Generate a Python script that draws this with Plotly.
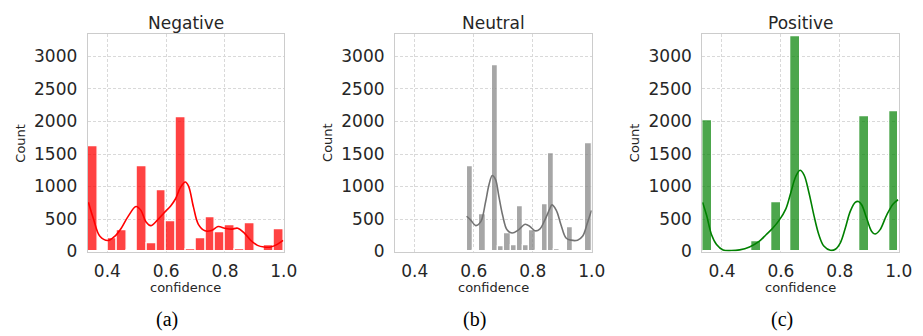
import plotly.graph_objects as go

# ---------------- data ----------------
# Histogram counts (20 bins per panel)
neg_bin_start = 1/3
neg_bin_width = (1.0 - 1/3) / 20
neg_counts = [1620, 0, 205, 330, 20, 1310, 130, 940, 460, 2060,
              30, 205, 535, 300, 410, 30, 430, 0, 105, 340]

neu_bin_start = 0.577
neu_bin_width = (1.0 - 0.577) / 20
neu_counts = [1310, 25, 570, 10, 2870, 85, 280, 90, 690, 90,
              330, 15, 730, 1510, 40, 25, 375, 8, 0, 1660]

pos_bin_start = 1/3
pos_bin_width = (1.0 - 1/3) / 20
pos_counts = [2020, 0, 0, 0, 0, 165, 0, 755, 0, 3320,
              0, 0, 0, 0, 0, 0, 2080, 0, 0, 2165]

# KDE curves (count scale)
neg_kde_x = [0.3355, 0.3523, 0.3746, 0.4026, 0.4249, 0.4472, 0.4696, 0.4975, 0.5142,
             0.5310, 0.5477, 0.5701, 0.5924, 0.6147, 0.6315, 0.6482, 0.6650, 0.6761,
             0.6929, 0.7096, 0.7320, 0.7543, 0.7766, 0.7990, 0.8213, 0.8436, 0.8660,
             0.8883, 0.9107, 0.9330, 0.9553, 0.9777, 0.9978]
neg_kde_y = [758, 508, 234, 170, 234, 359, 533, 693, 633,
             459, 399, 483, 593, 698, 808, 982, 1070, 1007,
             683, 419, 319, 324, 384, 359, 344, 359, 284,
             170, 95, 70, 70, 110, 170]

neu_kde_x = [0.576, 0.590, 0.607, 0.624, 0.640, 0.652, 0.663, 0.674, 0.685, 0.698,
             0.713, 0.730, 0.752, 0.774, 0.791, 0.808, 0.824, 0.841, 0.858, 0.865,
             0.880, 0.896, 0.913, 0.930, 0.952, 0.969, 0.985, 0.999]
neu_kde_y = [543, 484, 399, 459, 758, 1032, 1170, 1107, 857, 558,
             334, 284, 334, 419, 384, 319, 344, 484, 658, 718,
             633, 409, 209, 175, 175, 234, 434, 633]

pos_kde_x = [0.3345, 0.3479, 0.3647, 0.3815, 0.4039, 0.4319, 0.4599, 0.4935, 0.5272,
             0.5496, 0.5720, 0.5944, 0.6168, 0.6336, 0.6504, 0.6650, 0.6784, 0.6952,
             0.7120, 0.7288, 0.7456, 0.7680, 0.7848, 0.8016, 0.8184, 0.8353, 0.8521,
             0.8633, 0.8745, 0.8913, 0.9081, 0.9193, 0.9361, 0.9585, 0.9809, 0.9977]
pos_kde_y = [756, 557, 259, 109, 25, 15, 25, 70, 159,
             259, 358, 483, 657, 905, 1154, 1250, 1179, 905,
             557, 259, 85, 20, 35, 134, 358, 617, 756,
             770, 716, 507, 308, 269, 333, 557, 731, 796]

titles = ["Negative", "Neutral", "Positive"]
captions = ["(a)", "(b)", "(c)"]
x_label = "confidence"
y_label = "Count"
y_ticks = [0, 500, 1000, 1500, 2000, 2500, 3000]
x_ticks = [0.4, 0.6, 0.8, 1.0]
x_tick_text = ["0.4", "0.6", "0.8", "1.0"]

# ---------------- styling / layout ----------------
W, H = 923, 336
panels_px = [(81, 280), (393, 592.7), (705, 904.5)]
top_px, bot_px = 27, 251
bar_colors = ["rgba(255,0,0,0.74)", "rgba(128,128,128,0.70)", "rgba(0,128,0,0.70)"]
line_colors = ["#ff0000", "#737373", "#008000"]
font_main = "DejaVu Sans"
txt_col = "#262626"

series = [
    (neg_bin_start, neg_bin_width, neg_counts, neg_kde_x, neg_kde_y),
    (neu_bin_start, neu_bin_width, neu_counts, neu_kde_x, neu_kde_y),
    (pos_bin_start, pos_bin_width, pos_counts, pos_kde_x, pos_kde_y),
]

fig = go.Figure()
layout = dict(
    width=W, height=H, margin=dict(l=0, r=0, t=0, b=0),
    paper_bgcolor="white", plot_bgcolor="white", showlegend=False,
    bargap=0, barmode="overlay",
    font=dict(family=font_main, color=txt_col),
)
annotations = []
ydom = [1 - bot_px / H, 1 - top_px / H]

for i, (start, width, counts, kx, ky) in enumerate(series):
    sfx = "" if i == 0 else str(i + 1)
    xa, ya = "x" + sfx, "y" + sfx
    centers = [start + (k + 0.5) * width for k in range(len(counts))]
    fig.add_trace(go.Bar(
        x=centers, y=counts, width=[width] * len(counts),
        marker=dict(color=bar_colors[i], line=dict(color="white", width=1.3)),
        xaxis=xa, yaxis=ya, hoverinfo="skip",
    ))
    fig.add_trace(go.Scatter(
        x=kx, y=ky, mode="lines",
        line=dict(color=line_colors[i], width=1.6, shape="spline", smoothing=1.0),
        xaxis=xa, yaxis=ya, hoverinfo="skip",
    ))
    l, r = panels_px[i]
    layout["xaxis" + sfx] = dict(
        domain=[l / W, r / W], range=[1/3, 1.0], anchor=ya,
        tickvals=x_ticks, ticktext=x_tick_text, ticks="",
        tickfont=dict(size=17, family=font_main, color=txt_col),
        ticklabelstandoff=4,
        showgrid=True, gridcolor="#d9d9d9", griddash="3px,2px", gridwidth=1,
        showline=True, linecolor="#cccccc", linewidth=1.2, mirror=True,
        zeroline=False, fixedrange=True,
    )
    layout["yaxis" + sfx] = dict(
        domain=ydom, range=[0, 3343], anchor=xa,
        tickvals=y_ticks, ticks="",
        tickfont=dict(size=17, family=font_main, color=txt_col),
        ticklabelstandoff=6,
        showgrid=True, gridcolor="#d9d9d9", griddash="3px,2px", gridwidth=1,
        showline=True, linecolor="#cccccc", linewidth=1.2, mirror=True,
        zeroline=False, fixedrange=True,
    )
    cx = (l + r) / 2
    annotations.append(dict(
        text=titles[i], x=cx / W, y=1 - 15 / H, xref="paper", yref="paper",
        xanchor="center", yanchor="middle", showarrow=False,
        font=dict(size=17, family=font_main, color=txt_col)))
    annotations.append(dict(
        text=x_label, x=cx / W, y=1 - 288 / H, xref="paper", yref="paper",
        xanchor="center", yanchor="middle", showarrow=False,
        font=dict(size=13, family=font_main, color=txt_col)))
    annotations.append(dict(
        text=y_label, x=(l - 68) / W, y=1 - 139 / H, xref="paper", yref="paper",
        xanchor="center", yanchor="middle", showarrow=False, textangle=-90,
        font=dict(size=13, family=font_main, color=txt_col)))
    annotations.append(dict(
        text=captions[i], x=(cx - 19) / W, y=1 - 321 / H, xref="paper", yref="paper",
        xanchor="center", yanchor="middle", showarrow=False,
        font=dict(size=20, family="Liberation Serif", color="#000000")))

layout["annotations"] = annotations
fig.update_layout(**layout)
fig.write_html("out.html")
